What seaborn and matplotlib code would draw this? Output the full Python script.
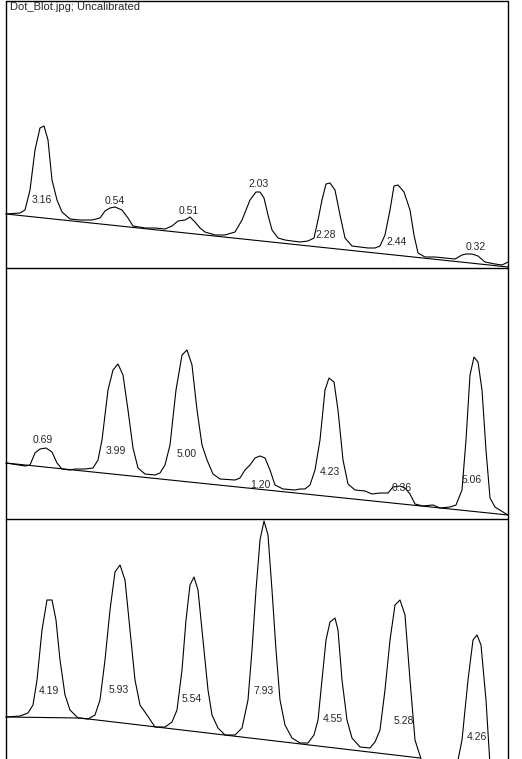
import numpy as np
import pandas as pd
import matplotlib
matplotlib.use('Agg')
import matplotlib.pyplot as plt
import seaborn as sns

# profile points, in image pixel coordinates (x, y down)
p1_x = [6, 20, 25, 30, 35, 40, 44, 48, 52, 57, 62, 70, 80, 92, 100, 105, 110, 115, 122, 128, 133, 145, 155, 165, 172, 178,
        185, 190, 195, 200, 205, 215, 225, 235, 242, 250, 256, 260, 264, 268, 272, 278, 285, 292, 300, 308, 314, 318, 322,
        326, 330, 335, 340, 345, 352, 360, 368, 375, 380, 385, 390, 394, 398, 404, 410, 414, 418, 425, 435, 445, 455, 462,
        466, 472, 478, 485, 495, 502, 508]
p1_y = [214, 213, 210, 190, 150, 128, 126, 140, 180, 200, 212, 219, 220, 220, 218, 211, 208, 207, 210, 218, 226, 228, 228,
        229, 226, 221, 220, 217, 222, 228, 232, 235, 235, 232, 220, 200, 192, 192, 198, 215, 230, 238, 240, 241, 242, 241,
        238, 220, 200, 184, 183, 190, 215, 238, 246, 247, 248, 248, 246, 235, 210, 186, 185, 192, 210, 235, 253, 257, 257,
        258, 259, 255, 254, 254, 256, 262, 264, 265, 262]
base1_x = [6, 508]
base1_y = [214, 267]
lab1_x = [42, 115, 189, 259, 326, 397, 476]
lab1_y = [200, 201, 211, 184, 235, 242, 247]
lab1 = ['3.16', '0.54', '0.51', '2.03', '2.28', '2.44', '0.32']

p2_x = [6, 25, 30, 35, 40, 46, 52, 57, 62, 70, 75, 85, 93, 98, 102, 108, 113, 118, 123, 128, 133, 138, 145, 155, 160, 165,
        170, 176, 182, 187, 192, 197, 202, 207, 213, 220, 235, 240, 245, 250, 255, 260, 265, 270, 275, 283, 295, 300, 305,
        310, 315, 320, 325, 329, 334, 338, 343, 348, 355, 365, 372, 380, 388, 393, 400, 405, 410, 415, 423, 433, 440, 450,
        456, 462, 466, 470, 474, 478, 482, 486, 490, 495, 503, 508]
p2_y = [463, 466, 465, 453, 449, 448, 452, 463, 469, 470, 469, 469, 468, 460, 440, 390, 370, 364, 375, 410, 448, 468, 474,
        475, 473, 465, 445, 390, 355, 350, 365, 410, 445, 460, 474, 479, 480, 478, 470, 465, 458, 456, 458, 470, 485, 489,
        490, 489, 489, 485, 470, 440, 390, 378, 382, 410, 460, 484, 490, 491, 494, 493, 493, 487, 486, 488, 494, 504, 506,
        505, 508, 507, 505, 490, 440, 375, 357, 362, 390, 450, 498, 507, 512, 515]
base2_x = [6, 508]
base2_y = [463, 515]
lab2_x = [43, 116, 187, 260, 330, 402, 472]
lab2_y = [440, 451, 454, 485, 472, 488, 480]
lab2 = ['0.69', '3.99', '5.00', '1.20', '4.23', '0.36', '5.06']

p3_x = [6, 20, 28, 33, 37, 42, 47, 52, 56, 60, 65, 70, 78, 88, 95, 100, 105, 110, 115, 120, 125, 130, 135, 140, 147, 155,
        165, 172, 177, 182, 186, 190, 194, 198, 203, 208, 212, 218, 225, 235, 242, 248, 252, 256, 260, 264, 268, 272, 276,
        280, 285, 292, 300, 308, 314, 318, 322, 326, 330, 335, 338, 342, 347, 352, 360, 370, 375, 380, 385, 390, 395, 400,
        405, 410, 415, 422, 430, 445, 455, 462, 468, 473, 477, 481, 486, 490, 496]
p3_y = [717, 716, 713, 705, 680, 630, 600, 600, 620, 660, 695, 710, 718, 719, 715, 700, 660, 610, 572, 565, 580, 630, 680,
        705, 715, 727, 727, 722, 710, 670, 620, 585, 577, 590, 640, 690, 715, 728, 735, 735, 728, 700, 650, 590, 540, 521,
        535, 590, 650, 700, 725, 738, 743, 743, 735, 720, 680, 640, 622, 618, 630, 680, 720, 738, 747, 748, 742, 730, 690,
        640, 605, 600, 615, 680, 740, 762, 775, 780, 775, 740, 680, 640, 635, 645, 700, 765, 785]
base3_x = [6, 80, 420]
base3_y = [717, 718, 758]
lab3_x = [49, 119, 192, 264, 333, 404, 477]
lab3_y = [691, 690, 699, 691, 719, 721, 737]
lab3 = ['4.19', '5.93', '5.54', '7.93', '4.55', '5.28', '4.26']

sns.set_style('white')
plt.rcParams['font.family'] = ['Liberation Sans', 'DejaVu Sans']

fig = plt.figure(figsize=(5.22, 7.59), dpi=100)
ax = fig.add_axes([0, 0, 1, 1])

panels = [(p1_x, p1_y, base1_x, base1_y, lab1_x, lab1_y, lab1),
          (p2_x, p2_y, base2_x, base2_y, lab2_x, lab2_y, lab2),
          (p3_x, p3_y, base3_x, base3_y, lab3_x, lab3_y, lab3)]

for px, py, bx, by, lx, ly, labs in panels:
    sns.lineplot(x=px, y=py, sort=False, color='black', linewidth=0.8, ax=ax, estimator=None)
    sns.lineplot(x=bx, y=by, sort=False, color='black', linewidth=0.8, ax=ax, estimator=None)
    for x, y, t in zip(lx, ly, labs):
        ax.text(x, y, t, ha='center', va='center', fontsize=7.5)

# frame and panel separators
ax.plot([6, 6, 508, 508], [759, 0.5, 0.5, 759], color='black', linewidth=1)
ax.plot([6, 508], [268, 268], color='black', linewidth=1)
ax.plot([6, 508], [519, 519], color='black', linewidth=1)
ax.text(10, 2, 'Dot_Blot.jpg; Uncalibrated', ha='left', va='top', fontsize=8)

ax.set_xlim(0, 522)
ax.set_ylim(759, 0)
ax.axis('off')

fig.savefig('out.png', dpi=100)
